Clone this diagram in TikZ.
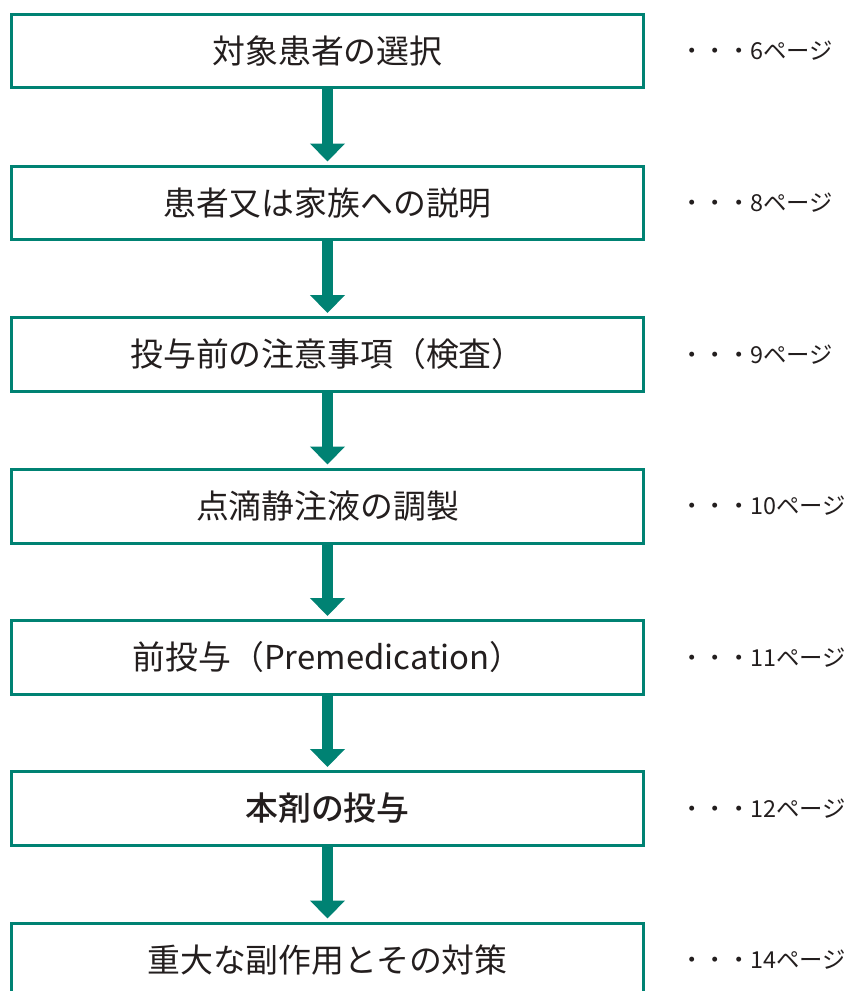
\documentclass[tikz,border=0pt]{standalone}
\usepackage{fontspec}
\setmainfont{Noto Sans CJK JP}
\newfontfamily\medfont{Noto Sans CJK JP Medium}
\usetikzlibrary{positioning, arrows.meta}
\definecolor{flowgreen}{RGB}{0,130,115}
\definecolor{flowtext}{RGB}{35,30,30}

\begin{document}
\begin{tikzpicture}[x=0.02cm, y=-0.02cm,
	every node/.style={text=flowtext},
	stepbox/.style={draw=flowgreen, line width=0.06cm, fill=white, minimum width=12.64cm, minimum height=1.48cm, inner sep=0pt, font=\fontsize{18.7}{20}\selectfont},
	pageref/.style={anchor=west, inner sep=0pt, font=\fontsize{13.3}{15}\selectfont},
	flowarrow/.style={draw=flowgreen, line width=0.22cm, -{Triangle[length=0.36cm, width=0.68cm]}, shorten >=0.06cm}]
		\useasboundingbox (0,0) rectangle (851,991);
		\clip (0,0) rectangle (851,991);

		% Steps of the procedure
		\node[stepbox] (s1) at (327.5,51) {対象患者の選択};
		\node[stepbox] (s2) at (327.5,203) {患者又は家族への説明};
		\node[stepbox] (s3) at (327.5,354.5) {投与前の注意事項（検査）};
		\node[stepbox] (s4) at (327.5,506) {点滴静注液の調製};
		\node[stepbox] (s5) at (327.5,657.5) {前投与（Premedication）};
		\node[stepbox, font=\fontsize{18.7}{20}\medfont] (s6) at (327.5,808.5) {本剤の投与};
		\node[stepbox] (s7) at (327.5,960) {重大な副作用とその対策};

		% Page references
		\node[pageref] (p1) at (680,51) {・・・6ページ};
		\node[pageref] (p2) at (680,203) {・・・8ページ};
		\node[pageref] (p3) at (680,354.5) {・・・9ページ};
		\node[pageref] (p4) at (680,506) {・・・10ページ};
		\node[pageref] (p5) at (680,657.5) {・・・11ページ};
		\node[pageref] (p6) at (680,808.5) {・・・12ページ};
		\node[pageref] (p7) at (680,960) {・・・14ページ};

		% Arrows between steps
		\draw[flowarrow] (s1) -- (s2);
		\draw[flowarrow] (s2) -- (s3);
		\draw[flowarrow] (s3) -- (s4);
		\draw[flowarrow] (s4) -- (s5);
		\draw[flowarrow] (s5) -- (s6);
		\draw[flowarrow] (s6) -- (s7);
	\end{tikzpicture}
\end{document}
